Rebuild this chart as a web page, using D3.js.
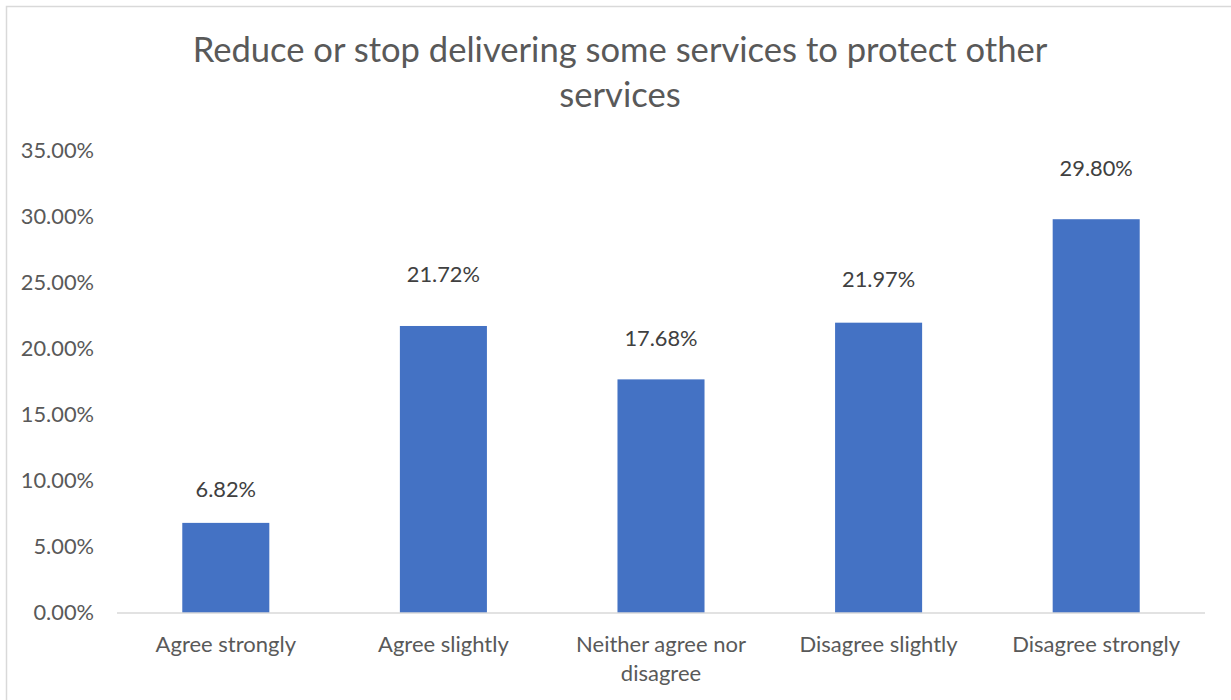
<!DOCTYPE html>
<html>
<head>
<meta charset="utf-8">
<script src="https://cdn.jsdelivr.net/npm/d3@7"></script>
<style>
  html, body { margin: 0; padding: 0; background: #fff; }
  svg { display: block; font-family: Lato, "Open Sans", sans-serif; }
</style>
</head>
<body>
<svg id="chart" width="1231" height="700"></svg>
<script>
// Survey responses: share of respondents per answer
const categories = ["Agree strongly", "Agree slightly", "Neither agree nor disagree", "Disagree slightly", "Disagree strongly"];
const shares = [6.82, 21.72, 17.68, 21.97, 29.80];
const yTicks = [0, 5, 10, 15, 20, 25, 30, 35];
const titleLines = ["Reduce or stop delivering some services to protect other", "services"];

// Extra lift of each value label above its bar, in pixels
const labelLift = [26, 44, 33, 36, 43];

const W = 1231, H = 700;
const margin = { left: 117, right: 26, top: 150.5, bottom: 87 };
const svg = d3.select("#chart");

// Chart frame
svg.append("rect")
  .attr("x", 6.5).attr("y", 6.5)
  .attr("width", W + 20).attr("height", H + 20)
  .attr("fill", "none").attr("stroke", "#d9d9d9").attr("stroke-width", 1.5);

const x = d3.scaleBand()
  .domain(categories)
  .range([margin.left, W - margin.right])
  .paddingInner(0.6)
  .paddingOuter(0.3);

const y = d3.scaleLinear()
  .domain([0, 35])
  .range([H - margin.bottom, margin.top]);

// Title
svg.append("text")
  .attr("text-anchor", "middle")
  .attr("fill", "#595959")
  .style("font-size", "34.6px")
  .selectAll("tspan")
  .data(titleLines)
  .join("tspan")
  .attr("x", 620)
  .attr("y", (d, i) => 62 + i * 45)
  .text(d => d);

// Y axis labels
const yAxis = d3.axisLeft(y)
  .tickValues(yTicks)
  .tickSize(0)
  .tickPadding(23)
  .tickFormat(d => d.toFixed(2) + "%");

const gy = svg.append("g")
  .attr("transform", `translate(${margin.left},0)`)
  .call(yAxis);
gy.select(".domain").remove();
gy.selectAll("text")
  .attr("fill", "#595959")
  .style("font-size", "21.8px")
  .style("font-family", "Lato, 'Open Sans', sans-serif");

// Bars
svg.append("g")
  .selectAll("rect")
  .data(shares)
  .join("rect")
  .attr("x", (d, i) => x(categories[i]))
  .attr("y", d => y(d))
  .attr("width", x.bandwidth())
  .attr("height", d => y(0) - y(d))
  .attr("fill", "#4472c4");

// Baseline
svg.append("line")
  .attr("x1", margin.left).attr("x2", W - margin.right)
  .attr("y1", y(0)).attr("y2", y(0))
  .attr("stroke", "#d9d9d9").attr("stroke-width", 1.5);

// Value labels
svg.append("g")
  .selectAll("text")
  .data(shares)
  .join("text")
  .attr("x", (d, i) => x(categories[i]) + x.bandwidth() / 2)
  .attr("y", (d, i) => y(d) - labelLift[i])
  .attr("text-anchor", "middle")
  .attr("fill", "#404040")
  .style("font-size", "21.8px")
  .text(d => d.toFixed(2) + "%");

// Category labels, wrapped to the band step
const xAxis = d3.axisBottom(x).tickSize(0).tickPadding(0);
const gx = svg.append("g")
  .attr("transform", `translate(0,${y(0)})`)
  .call(xAxis);
gx.select(".domain").remove();
gx.selectAll("text")
  .attr("fill", "#595959")
  .style("font-size", "22px")
  .style("font-family", "Lato, 'Open Sans', sans-serif")
  .attr("y", 39)
  .attr("dy", 0)
  .each(function (d) {
    const t = d3.select(this);
    const words = d.split(" ");
    const maxW = x.step() * 0.9;
    t.text(null);
    let line = [];
    let lineNo = 0;
    let tspan = t.append("tspan").attr("x", 0).attr("y", 39);
    for (const w of words) {
      line.push(w);
      tspan.text(line.join(" "));
      if (tspan.node().getComputedTextLength() > maxW && line.length > 1) {
        line.pop();
        tspan.text(line.join(" "));
        line = [w];
        lineNo += 1;
        tspan = t.append("tspan").attr("x", 0).attr("y", 39 + lineNo * 29).text(w);
      }
    }
  });
</script>
</body>
</html>
